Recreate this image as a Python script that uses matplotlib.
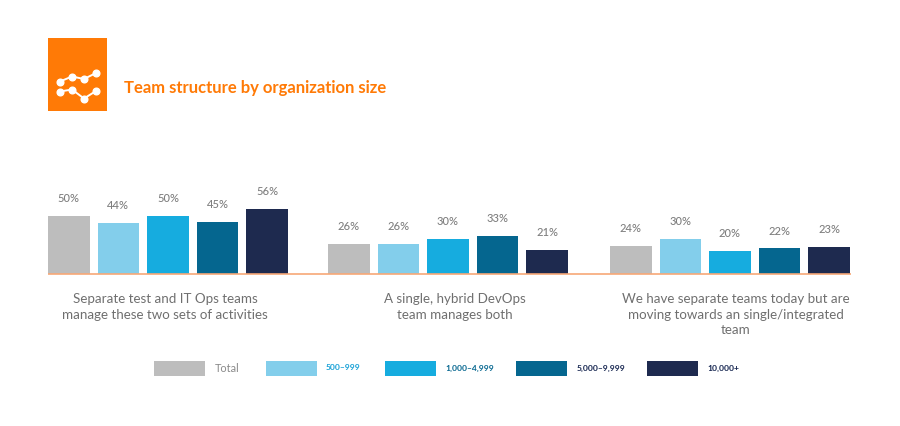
import matplotlib
matplotlib.use("Agg")
import matplotlib.pyplot as plt
from matplotlib.patches import Rectangle

plt.rcParams['font.family'] = ['Lato', 'DejaVu Sans']

categories = ["Separate test and IT Ops teams\nmanage these two sets of activities",
              "A single, hybrid DevOps\nteam manages both",
              "We have separate teams today but are\nmoving towards an single/integrated\nteam"]
series_names = ["Total", "500–999", "1,000–4,999", "5,000–9,999", "10,000+"]
total = [50, 26, 24]
s500 = [44, 26, 30]
s1000 = [50, 30, 20]
s5000 = [45, 33, 22]
s10000 = [56, 21, 23]
all_series = [total, s500, s1000, s5000, s10000]
colors = ["#BDBDBD", "#83CEEB", "#16ACDF", "#05668F", "#1E2A4F"]
legend_text_colors = ["#8A8A8A", "#16A0D6", "#05668F", "#14244F", "#14244F"]
legend_x = [154, 266, 385, 516, 647]
legend_tx = [215, 326, 445, 577, 707]
title = "Team structure by organization size"

W, H = 900, 426
fig = plt.figure(figsize=(W/100, H/100), dpi=100, facecolor="white")
bg = fig.add_axes([0, 0, 1, 1])
bg.set_xlim(0, W); bg.set_ylim(H, 0); bg.axis("off")

# chart axes: x in pixels-from-left, y in percent
base_y, top_y = 274, 174
ax = fig.add_axes([0, 1 - base_y/H, 1, (base_y - top_y)/H])
ax.set_xlim(0, W); ax.set_ylim(0, (base_y - top_y)/1.16)
ax.axis("off"); ax.patch.set_alpha(0)
group_x = [48, 328, 610]
slot, bar_w = 49.6, 41.5
for j, vals in enumerate(all_series):
    xs = [g + j*slot + bar_w/2 for g in group_x]
    ax.bar(xs, vals, width=bar_w, color=colors[j], linewidth=0)
    for x, v in zip(xs, vals):
        ax.text(x, v + 15, f"{v}%", ha="center", va="center", fontsize=8,
                fontweight="medium", color="#7F7F7F")
ax.plot([48, 851], [0, 0], color="#F7A877", lw=1.2, solid_capstyle="butt", clip_on=False)

# category labels
for cx, c in zip([165, 455, 736], categories):
    bg.text(cx, 293, c, ha="center", va="top", fontsize=9.6, color="#6F6F6F",
            linespacing=1.36)

# header
bg.add_patch(Rectangle((48, 38), 58.5, 73, color="#FF7A06", lw=0))
bg.text(124, 88, title, fontsize=12, fontweight="bold", color="#FF7A06", va="center")
l1x = [60, 72, 84, 96]; l1y = [81.5, 76.5, 79, 73]
l2x = [60, 72, 84, 96]; l2y = [91.5, 89.5, 98.5, 91]
for lx, ly in ((l1x, l1y), (l2x, l2y)):
    bg.plot(lx, ly, color="white", lw=1.4, marker="o", ms=4.8)

# legend
for j, name in enumerate(series_names):
    bg.add_patch(Rectangle((legend_x[j], 361), 51, 15, color=colors[j], lw=0))
    bg.text(legend_tx[j], 368, name, va="center",
            fontsize=7.8 if j == 0 else 6.1, fontweight="normal" if j == 0 else "bold",
            color=legend_text_colors[j])

fig.savefig("out.png", dpi=100, facecolor="white")
